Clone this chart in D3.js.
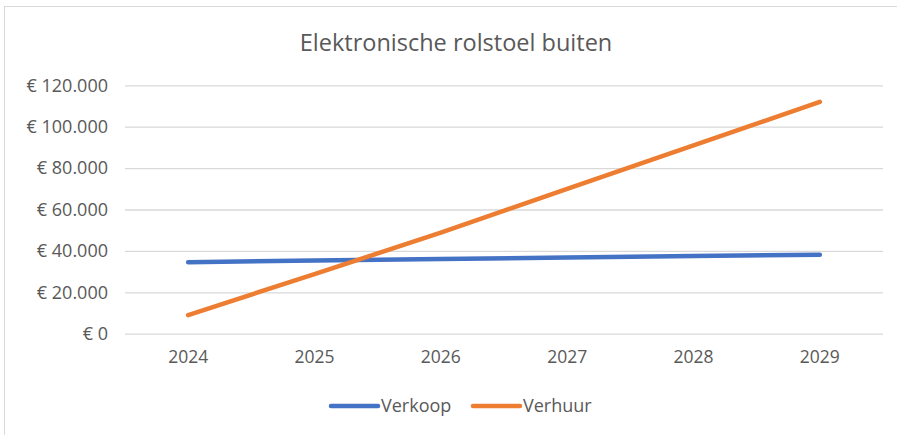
<!DOCTYPE html>
<html>
<head>
<meta charset="utf-8">
<script src="https://cdn.jsdelivr.net/npm/d3@7"></script>
<style>
  body { margin: 0; background: #fff; }
  text { font-family: "Open Sans", "Liberation Sans", sans-serif; fill: #595959; }
</style>
</head>
<body>
<div id="chart"></div>
<script>
var years = ["2024", "2025", "2026", "2027", "2028", "2029"];
var verkoop = [34500, 35400, 36100, 36800, 37500, 38200];
var verhuur = [9000, 28800, 48800, 70000, 91000, 112000];
var yTicks = [0, 20000, 40000, 60000, 80000, 100000, 120000];
var seriesNames = ["Verkoop", "Verhuur"];
var colors = ["#4472C4", "#ED7D31"];

var width = 897, height = 435;
var plotLeft = 125, plotRight = 883, plotTop = 85.3, plotBottom = 333.7;

var svg = d3.select("#chart").append("svg")
  .attr("width", width)
  .attr("height", height);

// chart frame
svg.append("rect")
  .attr("x", 4.5).attr("y", 6.5)
  .attr("width", width - 4).attr("height", height - 6)
  .attr("fill", "none")
  .attr("stroke", "#d9d9d9");

svg.append("text")
  .attr("x", 456).attr("y", 51)
  .attr("text-anchor", "middle")
  .style("font-size", "23.5px")
  .text("Elektronische rolstoel buiten");

var x = d3.scaleBand().domain(years).range([plotLeft, plotRight]);
var y = d3.scaleLinear().domain([0, 120000]).range([plotBottom, plotTop]);

var fmt = function(d) {
  return "€ " + d3.format(",")(d).replace(/,/g, ".");
};

// gridlines + y labels
var yAxis = svg.append("g")
  .attr("transform", "translate(" + plotLeft + ",0)")
  .call(d3.axisLeft(y).tickValues(yTicks).tickSize(-(plotRight - plotLeft)).tickPadding(17).tickFormat(fmt));
yAxis.select(".domain").remove();
yAxis.selectAll("line").attr("stroke", "#d9d9d9").attr("stroke-width", 1.3);
yAxis.selectAll("text")
  .style("font-size", "18px").style("fill", "#595959")
  .style("font-family", "'Open Sans', sans-serif");

// x labels
var xAxis = svg.append("g")
  .attr("transform", "translate(0," + plotBottom + ")")
  .call(d3.axisBottom(x).tickSize(0).tickPadding(17));
xAxis.select(".domain").remove();
xAxis.selectAll("text")
  .style("font-size", "17.5px").style("fill", "#595959")
  .style("font-family", "'Open Sans', sans-serif");

var line = d3.line()
  .x(function(d, i) { return x(years[i]) + x.bandwidth() / 2; })
  .y(function(d) { return y(d); });

[verkoop, verhuur].forEach(function(s, i) {
  svg.append("path")
    .datum(s)
    .attr("d", line)
    .attr("fill", "none")
    .attr("stroke", colors[i])
    .attr("stroke-width", 4.5)
    .attr("stroke-linecap", "round")
    .attr("stroke-linejoin", "round");
});

// legend
var legX = [331, 473];
seriesNames.forEach(function(n, i) {
  svg.append("line")
    .attr("x1", legX[i]).attr("x2", legX[i] + 47)
    .attr("y1", 406).attr("y2", 406)
    .attr("stroke", colors[i])
    .attr("stroke-width", 4.5)
    .attr("stroke-linecap", "round");
  svg.append("text")
    .attr("x", legX[i] + 50).attr("y", 412)
    .style("font-size", "18px")
    .text(n);
});
</script>
</body>
</html>
